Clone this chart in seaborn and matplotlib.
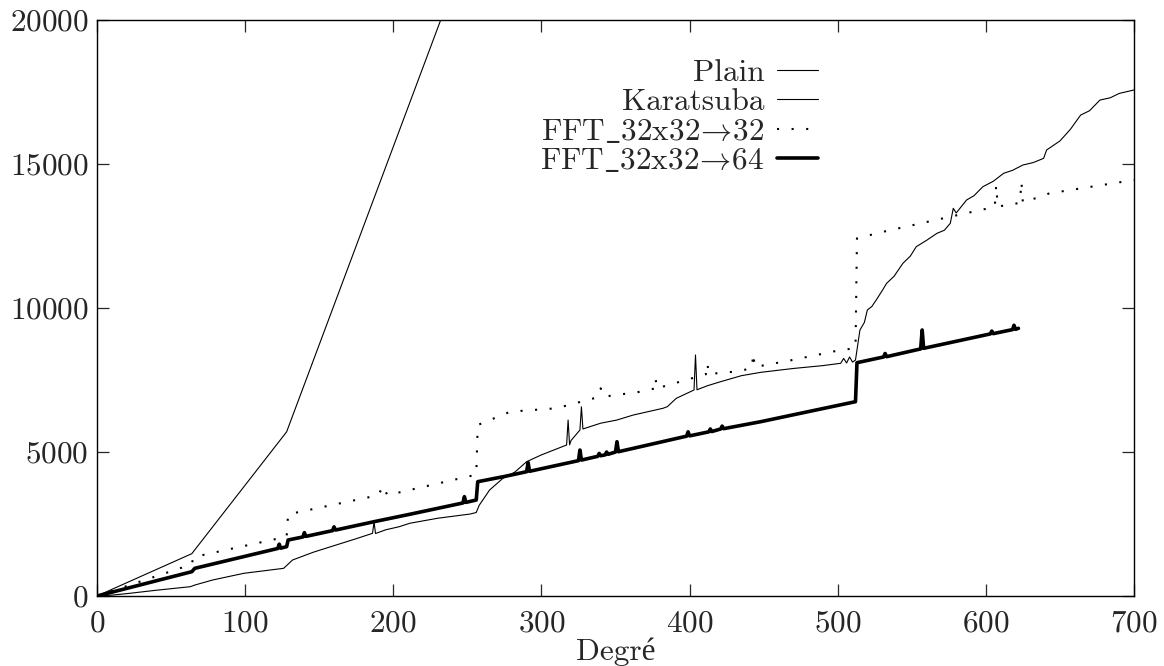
import matplotlib
matplotlib.use("Agg")
import matplotlib.pyplot as plt
import seaborn as sns
import pandas as pd

# Temps de calcul selon le degré
plain_deg = [0, 64, 128, 256, 512]
plain_val = [0, 1470, 5700, 23300, 93000]

kara_deg = [0, 10, 22, 40, 63, 66, 78, 99, 126, 132, 146, 160, 175, 186, 187, 188,
            195, 204, 211, 230, 252, 256, 258, 265, 274, 282, 290, 300, 317, 318, 319,
            320, 326, 327, 328, 340, 351, 362, 382, 385, 391, 403, 404, 405, 412, 421,
            435, 448, 470, 490, 502, 504, 506, 508, 510, 512, 515, 518, 520, 523, 526,
            530, 533, 538, 544, 549, 553, 560, 567, 572, 576, 578, 580, 587, 592, 598,
            605, 612, 618, 625, 632, 639, 641, 650, 657, 664, 670, 677, 684, 690, 700]
kara_val = [0, 30, 93, 200, 323, 380, 555, 787, 961, 1250, 1520, 1748, 1990, 2177, 2580, 2170,
            2300, 2406, 2524, 2700, 2847, 2900, 3150, 3680, 4086, 4300, 4663, 4900, 5243, 6110, 5250,
            5400, 5764, 6570, 5800, 6000, 6111, 6284, 6517, 6574, 6863, 7153, 8370, 7160, 7300, 7442,
            7650, 7766, 7900, 8000, 8080, 8250, 8090, 8300, 8120, 8194, 9236, 9500, 9931, 10050, 10278,
            10600, 10856, 11100, 11551, 11800, 12128, 12350, 12593, 12700, 12940, 13461, 13300, 13750, 13900, 14212,
            14400, 14677, 14780, 14965, 15050, 15197, 15486, 15800, 16200, 16700, 16850, 17220, 17300, 17450, 17570]

fft32_deg = [0, 64, 65, 128, 129, 190, 193, 196, 211, 250, 256, 257, 279, 300, 310, 338, 340,
             342, 367, 376, 377, 378, 411, 412, 413, 430, 442, 443, 444, 470, 502, 512, 513,
             531, 576, 606, 607, 608, 623, 624, 625, 643, 700]
fft32_val = [0, 1100, 1350, 2060, 2836, 3500, 3830, 3500, 3680, 4142, 4210, 5937, 6400, 6480, 6517, 6900, 7211,
             6920, 7094, 7200, 7559, 7210, 7700, 8080, 7710, 7788, 7900, 8426, 7950, 8200, 8542, 8600, 12419,
             12650, 13170, 13510, 14270, 13520, 13650, 14390, 13660, 13982, 14444]

fft64_deg = [0, 64, 66, 122, 123, 124, 128, 129, 139, 140, 141, 159, 160, 161, 187, 211, 247, 248,
             249, 256, 257, 275, 290, 291, 292, 325, 326, 327, 338, 339, 340, 343, 344, 345, 350,
             351, 352, 398, 399, 400, 413, 414, 415, 421, 422, 423, 448, 480, 512, 513, 531, 532,
             533, 556, 557, 558, 603, 604, 605, 618, 619, 620, 622]
fft64_val = [0, 844, 961, 1650, 1800, 1660, 1713, 1944, 2050, 2200, 2070, 2270, 2400, 2290, 2580, 2836, 3230, 3450,
             3250, 3333, 3969, 4150, 4316, 4630, 4330, 4700, 5069, 4720, 4850, 4950, 4870, 4900, 5000, 4920, 5000,
             5358, 5010, 5550, 5700, 5560, 5700, 5800, 5710, 5800, 5900, 5810, 6052, 6400, 6747, 8101, 8300, 8420,
             8310, 8580, 9236, 8600, 9100, 9200, 9110, 9250, 9400, 9260, 9294]

sns.set_style("ticks")
plt.rcParams["font.family"] = ["cmr10", "Liberation Serif", "DejaVu Serif"]
plt.rcParams["axes.formatter.use_mathtext"] = True
plt.rcParams["mathtext.fontset"] = "cm"

FS = 22.5

fig = plt.figure(figsize=(11.64, 6.66), dpi=100)
ax = fig.add_axes([97 / 1164, 1 - 596 / 666, 1037 / 1164, 576 / 666])

df_plain = pd.DataFrame({"deg": plain_deg, "t": plain_val})
df_kara = pd.DataFrame({"deg": kara_deg, "t": kara_val})
df_f32 = pd.DataFrame({"deg": fft32_deg, "t": fft32_val})
df_f64 = pd.DataFrame({"deg": fft64_deg, "t": fft64_val})

sns.lineplot(data=df_plain, x="deg", y="t", ax=ax, color="black", lw=0.8,
             estimator=None, sort=False, label="Plain")
sns.lineplot(data=df_kara, x="deg", y="t", ax=ax, color="black", lw=0.8,
             estimator=None, sort=False, label="Karatsuba")
sns.lineplot(data=df_f32, x="deg", y="t", ax=ax, color="black", lw=1.5,
             linestyle=(0, (1, 6)), estimator=None, sort=False,
             label=r"$\mathrm{FFT\_32x32}\!\rightarrow\!\mathrm{32}$")
sns.lineplot(data=df_f64, x="deg", y="t", ax=ax, color="black", lw=2.6,
             estimator=None, sort=False,
             label=r"$\mathrm{FFT\_32x32}\!\rightarrow\!\mathrm{64}$")

ax.set_xlim(0, 700)
ax.set_ylim(0, 20000)
ax.set_xticks([0, 100, 200, 300, 400, 500, 600, 700])
ax.set_yticks([0, 5000, 10000, 15000, 20000])
ax.tick_params(direction="in", length=8.5, width=0.9, top=True, right=True,
               labelsize=FS)
ax.tick_params(axis="y", pad=6)
ax.tick_params(axis="x", pad=10)
for s in ax.spines.values():
    s.set_visible(True)
    s.set_linewidth(1.0)
    s.set_color("black")
ax.set_xlabel("Degré", fontsize=FS, labelpad=0)
ax.set_ylabel("")

leg = ax.legend(loc="upper right", bbox_to_anchor=(0.695, 0.933), frameon=False,
                fontsize=FS, markerfirst=False, handlelength=1.3, handletextpad=0.4,
                labelspacing=0.05, borderpad=0, borderaxespad=0)
leg._legend_box._children[1]._children[0].align = "right"

fig.savefig("out.png", dpi=100)
